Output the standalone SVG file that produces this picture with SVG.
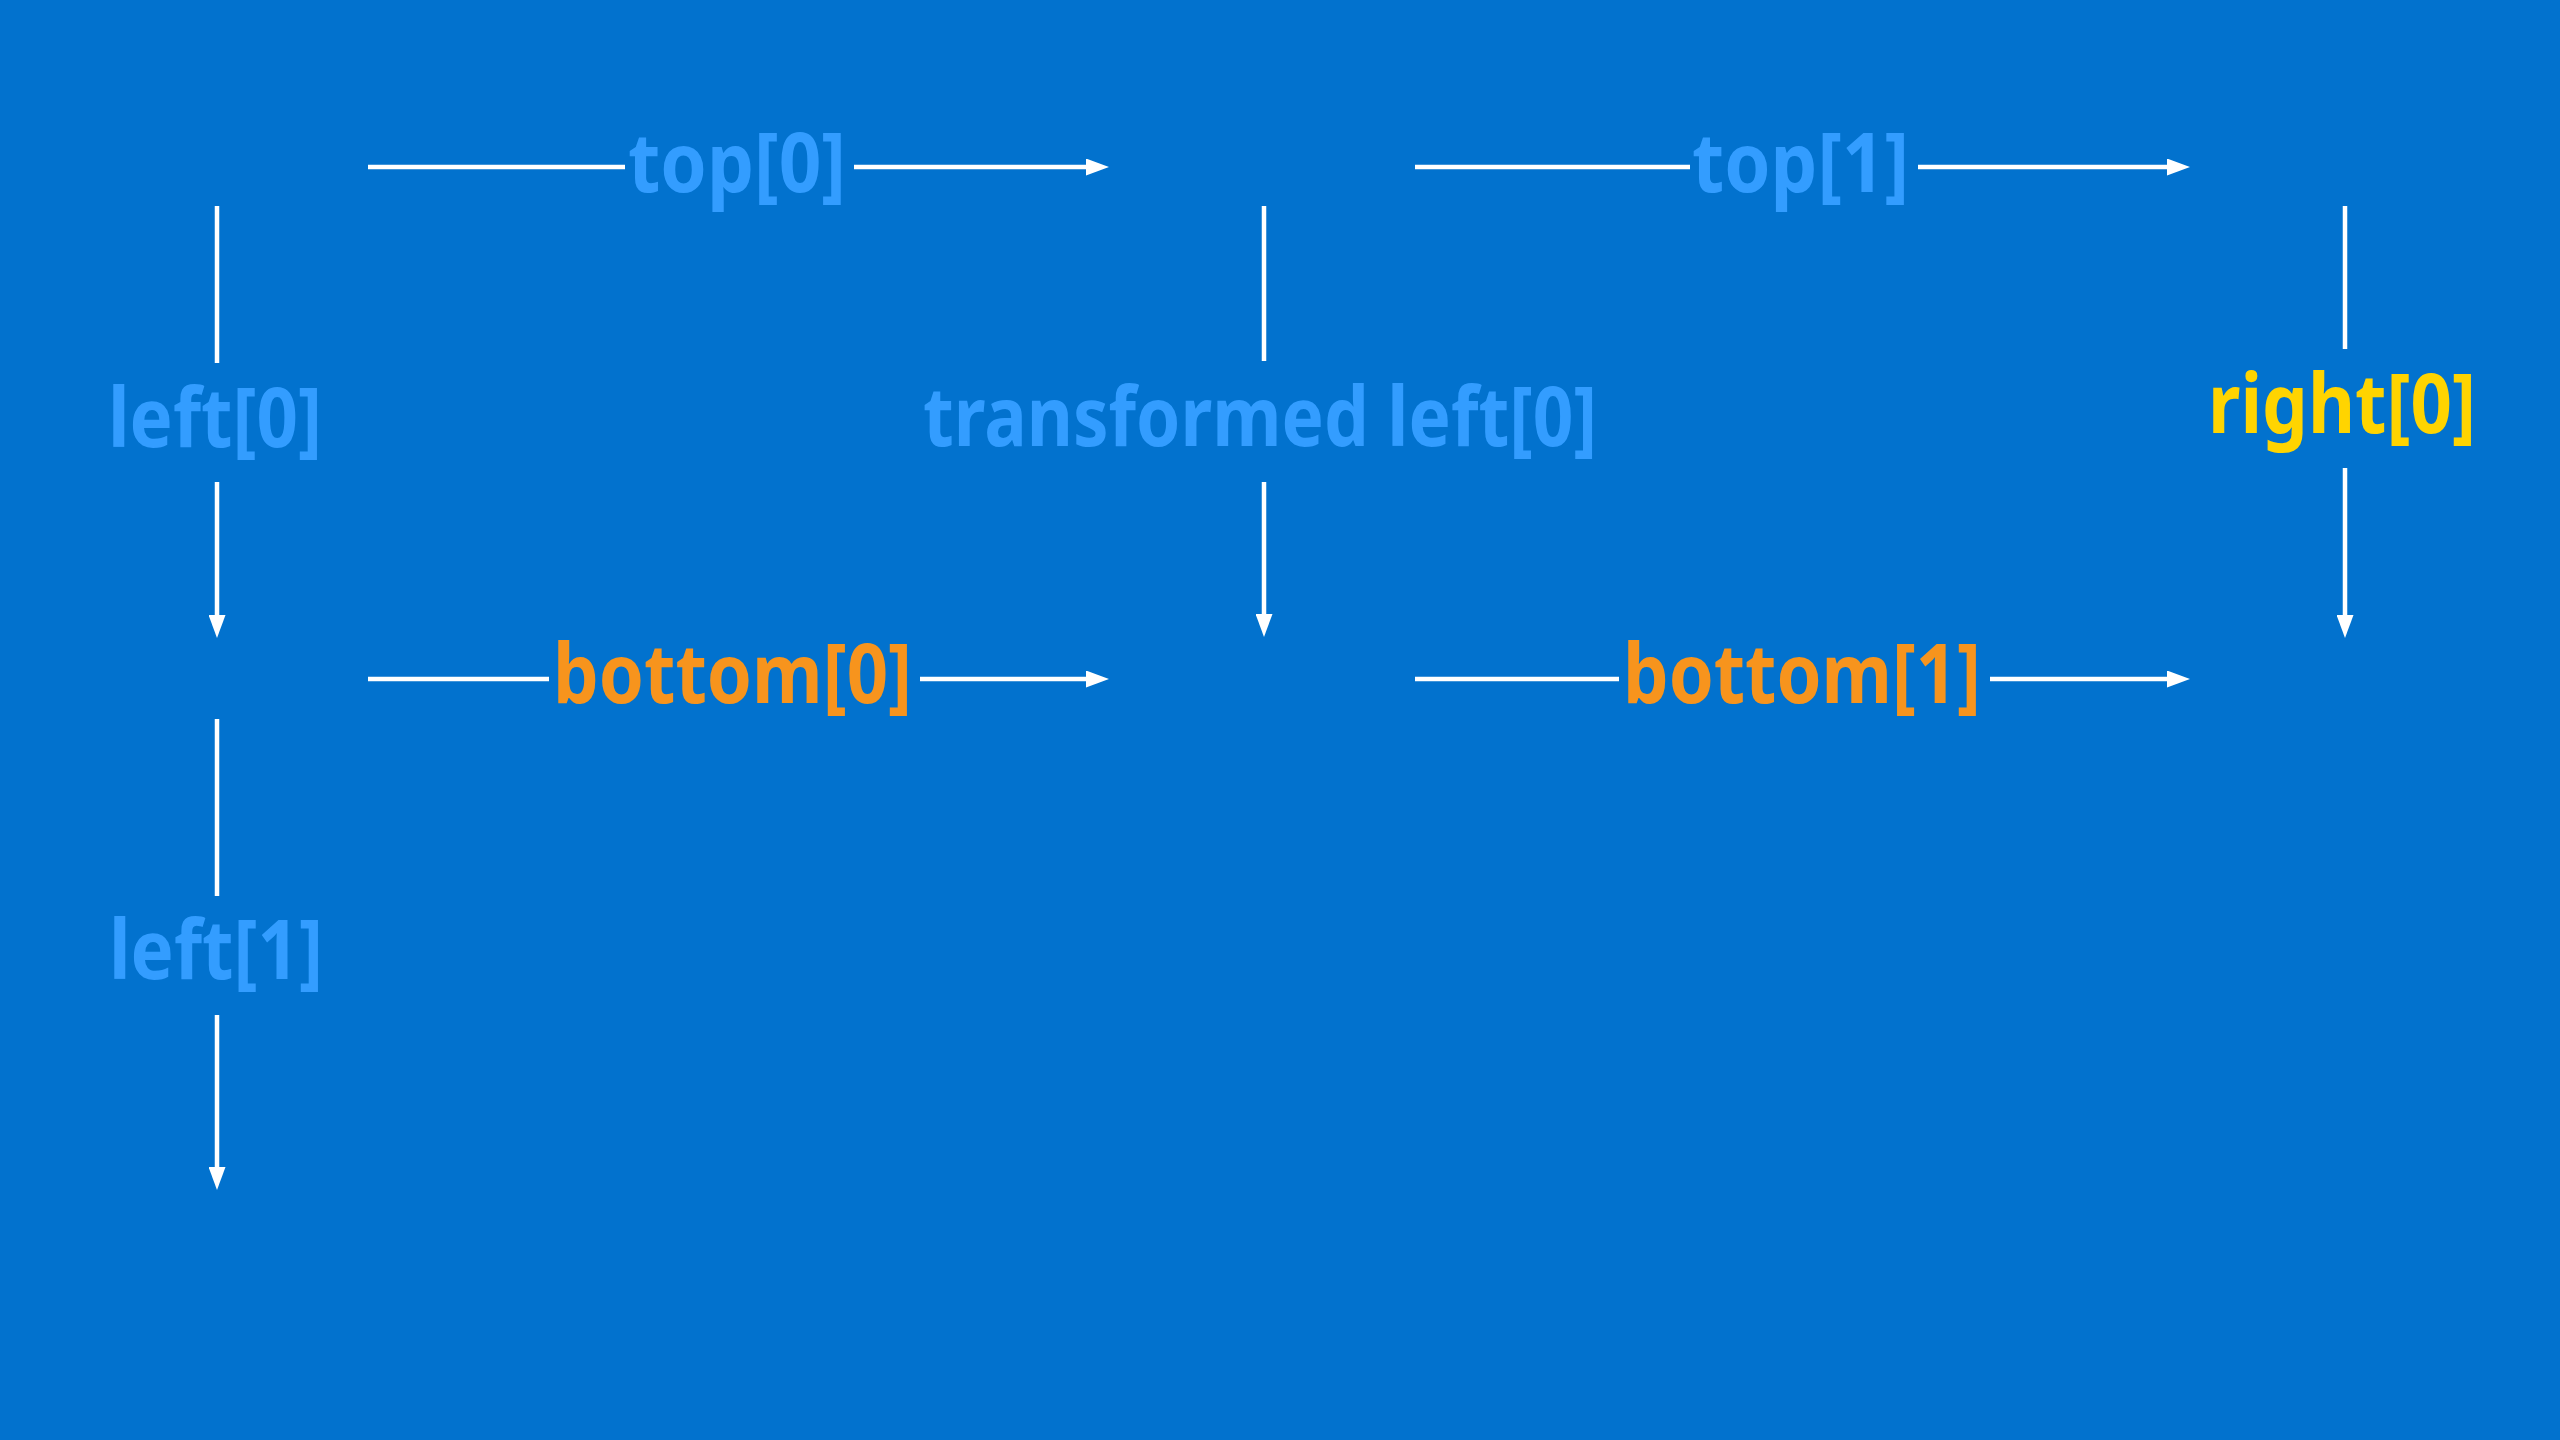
<svg xmlns="http://www.w3.org/2000/svg" width="2560" height="1440" viewBox="0 0 2560 1440">
<defs>
<style>
.bg{fill:#0272CE}
.c{stroke:#FFFFFF;stroke-width:4.5;fill:none}
.t{font-family:"Noto Sans","Open Sans","Liberation Sans",sans-serif;font-weight:700;font-size:82px}
.blue{fill:#339DFF}
.orange{fill:#F7941D}
.yellow{fill:#FFD400}
</style>
<marker id="ah" viewBox="0 0 23 17" refX="0" refY="8.5" markerWidth="23" markerHeight="17" markerUnits="userSpaceOnUse" orient="auto">
<polygon points="0,0 23,8.5 0,17" fill="#FFFFFF"/>
</marker>
</defs>
<rect class="bg" x="0" y="0" width="2560" height="1440"/>
<g id="connectors">
<path class="c" d="M368,167 H625"/>
<path class="c" d="M854,167 H1086" marker-end="url(#ah)"/>
<path class="c" d="M1415,167 H1690"/>
<path class="c" d="M1918,167 H2167" marker-end="url(#ah)"/>
<path class="c" d="M368,679 H549"/>
<path class="c" d="M920,679 H1086" marker-end="url(#ah)"/>
<path class="c" d="M1415,679 H1619"/>
<path class="c" d="M1990,679 H2167" marker-end="url(#ah)"/>
<path class="c" d="M217,206 V363"/>
<path class="c" d="M217,482 V615" marker-end="url(#ah)"/>
<path class="c" d="M217,719 V896"/>
<path class="c" d="M217,1015 V1167" marker-end="url(#ah)"/>
<path class="c" d="M1264,206 V361"/>
<path class="c" d="M1264,482 V614" marker-end="url(#ah)"/>
<path class="c" d="M2345,206 V349"/>
<path class="c" d="M2345,468 V615" marker-end="url(#ah)"/>
</g>
<g id="top0"><text class="t blue" x="628" y="192" textLength="218" lengthAdjust="spacingAndGlyphs">top[0]</text></g>
<g id="top1"><text class="t blue" x="1692" y="192" textLength="217" lengthAdjust="spacingAndGlyphs">top[1]</text></g>
<g id="left0"><text class="t blue" x="108" y="447" textLength="214" lengthAdjust="spacingAndGlyphs">left[0]</text></g>
<g id="transformedLeft0"><text class="t blue" x="923" y="446" textLength="674" lengthAdjust="spacingAndGlyphs">transformed left[0]</text></g>
<g id="right0"><text class="t yellow" x="2208" y="433" textLength="268" lengthAdjust="spacingAndGlyphs">right[0]</text></g>
<g id="bottom0"><text class="t orange" x="553" y="703" textLength="359" lengthAdjust="spacingAndGlyphs">bottom[0]</text></g>
<g id="bottom1"><text class="t orange" x="1623" y="703" textLength="358" lengthAdjust="spacingAndGlyphs">bottom[1]</text></g>
<g id="left1"><text class="t blue" x="109" y="979" textLength="214" lengthAdjust="spacingAndGlyphs">left[1]</text></g>
</svg>
